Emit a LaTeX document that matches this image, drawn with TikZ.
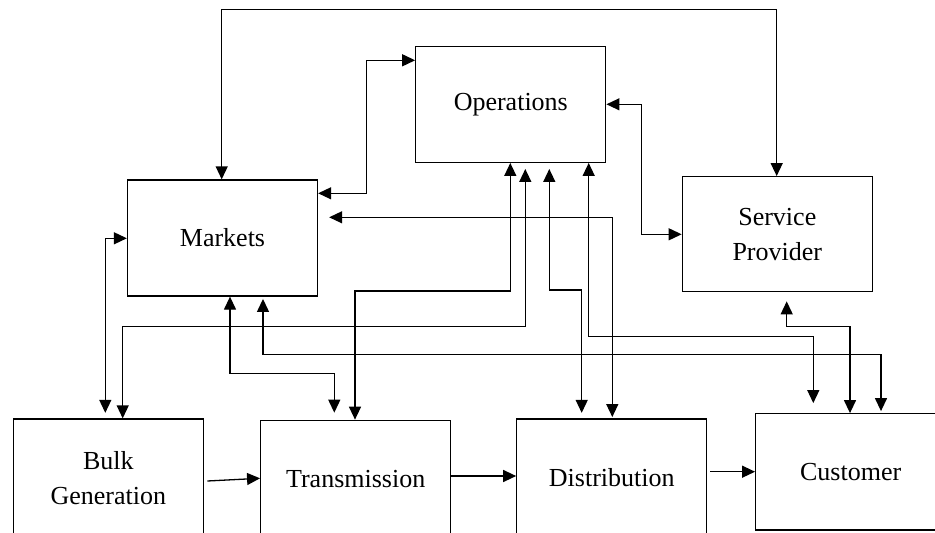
\documentclass[tikz,border=0pt]{standalone}
\usepackage{fontspec}
\setmainfont{Liberation Serif}
\usetikzlibrary{arrows.meta}
\tikzset{
  box/.style={draw, line width=1.3pt, rectangle, minimum width=190pt, minimum height=116pt, inner sep=0pt, align=center, font=\fontsize{26}{35}\selectfont},
  dbl/.style={line width=1.3pt, line join=miter, {Triangle[length=13pt,width=12pt]}-{Triangle[length=13pt,width=12pt]}},
  one/.style={line width=1.3pt, -{Triangle[length=13pt,width=12pt]}},
}
\begin{document}
\begin{tikzpicture}[x=1pt,y=-1pt]
\useasboundingbox (0,0) rectangle (935,533);
\clip (0,0) rectangle (935,533);
% boxes
\node[box, minimum height=115.6pt] (ops) at (510.8,104.5) {Operations};
\node[box] (mkt) at (222.5,238) {Markets};
\node[box, minimum height=115pt] (sp) at (777.3,234.2) {Service\\Provider};
\node[box, minimum height=118pt] (bulk) at (108.3,478) {Bulk\\Generation};
\node[box, minimum height=118pt] (trans) at (355.7,479.3) {Transmission};
\node[box, minimum height=118pt] (dist) at (611.8,478) {Distribution};
\node[box, minimum height=116.3pt] (cust) at (850.7,471.9) {Customer};
% bend points
\coordinate (c1a) at (221.7,9.7);
\coordinate (c1b) at (776.7,9.7);
\coordinate (c2a) at (366.7,193.3);
\coordinate (c2b) at (366.7,60.3);
\coordinate (c3a) at (612.3,217.3);
\coordinate (c4a) at (641.7,104.3);
\coordinate (c4b) at (641.7,234.3);
\coordinate (c5a) at (105.3,238.3);
\coordinate (c6a) at (525.3,326.7);
\coordinate (c6b) at (122.7,326.7);
\coordinate (c7a) at (510.3,291);
\coordinate (c7b) at (355,291);
\coordinate (c8a) at (230,373.3);
\coordinate (c8b) at (334.3,373.3);
\coordinate (c9a) at (549.3,290);
\coordinate (c9b) at (581.7,290);
\coordinate (c10a) at (588.7,336.7);
\coordinate (c10b) at (813.3,336.7);
\coordinate (c11a) at (263,354.3);
\coordinate (c11b) at (881,354.3);
\coordinate (c12a) at (786.7,326.7);
\coordinate (c12b) at (850,326.7);
\coordinate (c14) at (480,476);
\coordinate (c15) at (730,471.7);
% connectors
\draw[dbl] (mkt.north -| c1a) -- (c1a) -- (c1b) -- (sp.north -| c1b);
\draw[dbl] (mkt.east |- c2a) -- (c2a) -- (c2b) -- (ops.west |- c2b);
\draw[dbl, shorten <=11pt, shorten >=1.3pt] (mkt.east |- c3a) -- (c3a) -- (dist.north -| c3a);
\draw[dbl] (ops.east |- c4a) -- (c4a) -- (c4b) -- (sp.west |- c4b);
\draw[dbl, shorten >=5.5pt] (mkt.west |- c5a) -- (c5a) -- (bulk.north -| c5a);
\draw[dbl, shorten <=6pt] (ops.south -| c6a) -- (c6a) -- (c6b) -- (bulk.north -| c6b);
\draw[dbl] (ops.south -| c7a) -- (c7a) -- (c7b) -- (trans.north -| c7b);
\draw[dbl, shorten >=7pt] (mkt.south -| c8a) -- (c8a) -- (c8b) -- (trans.north -| c8b);
\draw[dbl, shorten <=6pt, shorten >=5.5pt] (ops.south -| c9a) -- (c9a) -- (c9b) -- (dist.north -| c9b);
\draw[dbl, shorten >=10pt] (ops.south -| c10a) -- (c10a) -- (c10b) -- (cust.north -| c10b);
\draw[dbl, shorten <=2.3pt, shorten >=2pt] (mkt.south -| c11a) -- (c11a) -- (c11b) -- (cust.north -| c11b);
\draw[dbl, shorten <=9pt] (sp.south -| c12a) -- (c12a) -- (c12b) -- (cust.north -| c12b);
\draw[one] ([xshift=3.4pt,yshift=-3pt]bulk.east) -- ([yshift=1pt]trans.west);
\draw[one] (trans.east |- c14) -- (dist.west |- c14);
\draw[one, shorten <=3pt] (dist.east |- c15) -- (cust.west |- c15);
\end{tikzpicture}
\end{document}
